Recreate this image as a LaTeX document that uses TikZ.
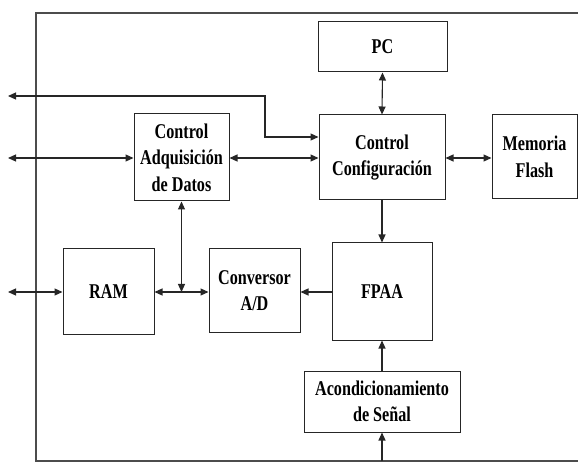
\documentclass[tikz,border=0pt]{standalone}
\usepackage{fontspec}
\setmainfont[FakeStretch=0.77]{Liberation Serif}
\usetikzlibrary{arrows.meta}
\begin{document}
\begin{tikzpicture}[x=1pt,y=-1pt,
  blk/.style={draw=black!85, line width=1pt, align=center, inner sep=0pt,
    font=\fontsize{21}{26.5}\selectfont\bfseries},
  con/.style={draw=black!85, line width=1.1pt},
  tip/.style={con, -{Triangle[length=8pt,width=7pt]}},
  dtip/.style={con, {Triangle[length=8pt,width=7pt]}-{Triangle[length=8pt,width=7pt]}}]
\useasboundingbox (0,0) rectangle (578,462);
% blocks
\node[blk, minimum width=129pt, minimum height=50pt] (pc) at (382.5,47) {PC};
\node[blk, minimum width=126pt, minimum height=85pt] (cfg) at (382,157.5) {Control\\Configuración};
\node[blk, minimum width=85pt, minimum height=84pt] (mem) at (534.5,157) {Memoria\\Flash};
\node[blk, minimum width=95pt, minimum height=87pt] (adq) at (181.5,157.5) {Control\\Adquisición\\de Datos};
\node[blk, minimum width=91pt, minimum height=85pt] (ram) at (108.5,291.5) {RAM};
\node[blk, minimum width=91pt, minimum height=83pt] (conv) at (254.5,290.5) {Conversor\\A/D};
\node[blk, minimum width=100pt, minimum height=97pt] (fpaa) at (382,291.5) {FPAA};
\node[blk, minimum width=156pt, minimum height=61pt] (acond) at (382,401.5) {Acondicionamiento\\de Señal};
% frame
\coordinate (f1) at (578,13);
\coordinate (f2) at (36,13);
\coordinate (f3) at (36,461);
\coordinate (f4) at (578,461);
\draw[con, draw=black!70] (f1) -- (f2) -- (f3) -- (f4);
% free ends
\coordinate (l1) at (8,96);
\coordinate (c1) at (265,137);
\coordinate (l2) at (8,158);
\coordinate (l3) at (8,292);
\coordinate (j) at (181.5,292);
\coordinate (b) at (382,461);
% connectors
\draw[dtip] (l1) -| (c1) -- (c1 -| cfg.west);
\draw[dtip] (l2) -- (l2 -| adq.west);
\draw[dtip] (adq.east |- l2) -- (cfg.west |- l2);
\draw[dtip] (cfg.east |- l2) -- (mem.west |- l2);
\draw[dtip] (pc.south) -- (cfg.north);
\draw[tip] (cfg.south) -- (fpaa.north);
\draw[dtip] (adq.south) -- (j);
\draw[dtip] (l3) -- (l3 -| ram.west);
\draw[dtip] (ram.east |- l3) -- (conv.west |- l3);
\draw[tip] (fpaa.west |- l3) -- (conv.east |- l3);
\draw[tip] (acond.north) -- (fpaa.south);
\draw[tip] (b) -- (acond.south);
\end{tikzpicture}
\end{document}
